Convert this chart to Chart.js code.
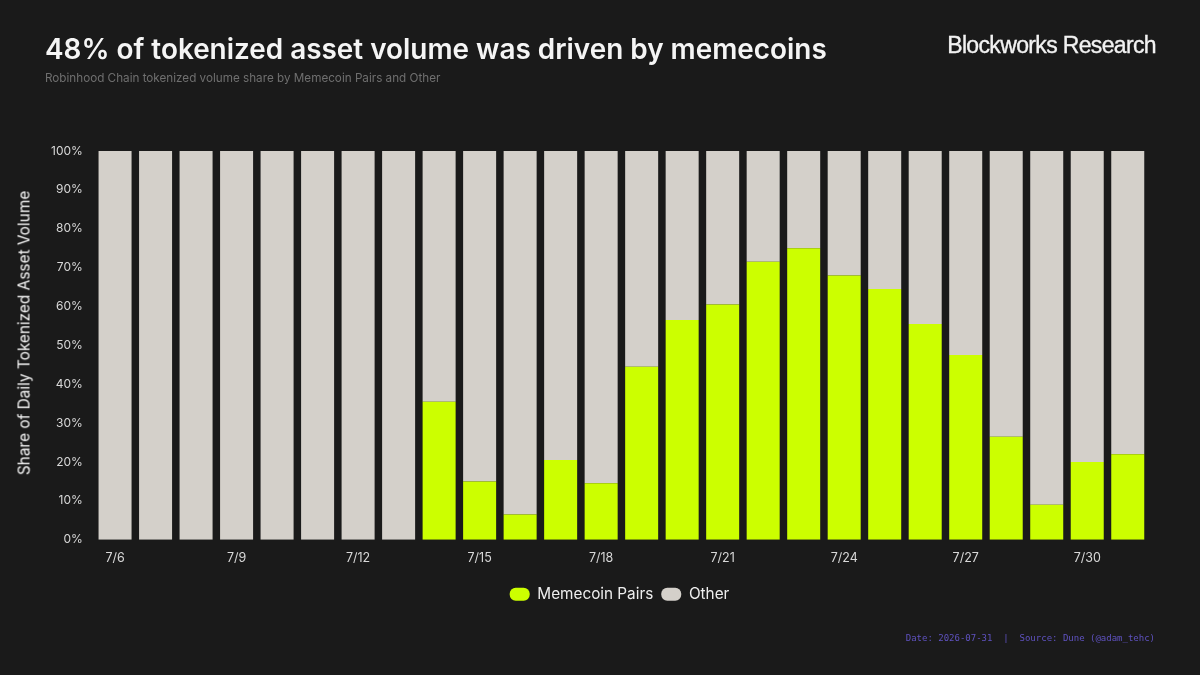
<!DOCTYPE html>
<html>
<head>
<meta charset="utf-8">
<script src="https://cdn.jsdelivr.net/npm/chart.js@4"></script>
<style>
  html, body { margin: 0; padding: 0; background: #1a1a1a; }
  #wrap { position: relative; width: 1200px; height: 675px; overflow: hidden; font-family: Inter, sans-serif; }
  #grafik { position: absolute; left: 0; top: 0; }
  .txt { position: absolute; white-space: nowrap; }
  #baslik { left: 45px; top: 32px; font-size: 27.9px; font-weight: 600; color: #f5f5f5; }
  #altbaslik { left: 45px; top: 71px; font-size: 11.7px; color: #6f6f6f; }
  #marka { right: 44px; top: 32px; font-size: 23px; font-weight: 400; color: #f2f2f2; letter-spacing: -0.65px; font-family: "Liberation Sans", sans-serif; -webkit-text-stroke: 0.35px #f2f2f2; }
  #kaynak { right: 45px; top: 633px; font-size: 9px; color: #5f52c0; font-family: "DejaVu Sans Mono", monospace; white-space: pre; }
  #yeksen { left: 24px; top: 332.5px; font-size: 15.4px; color: #f2f2f2; transform: translate(-50%, -50%) rotate(-90deg); }
</style>
</head>
<body>
<div id="wrap">
  <canvas id="grafik" width="1200" height="675"></canvas>
  <div class="txt" id="baslik">48% of tokenized asset volume was driven by memecoins</div>
  <div class="txt" id="altbaslik">Robinhood Chain tokenized volume share by Memecoin Pairs and Other</div>
  <div class="txt" id="marka">Blockworks Research</div>
  <div class="txt" id="yeksen">Share of Daily Tokenized Asset Volume</div>
  <div class="txt" id="kaynak">Date: 2026-07-31  |  Source: Dune (@adam_tehc)</div>
</div>
<script>
const tarihler = ["7/6","7/7","7/8","7/9","7/10","7/11","7/12","7/13","7/14","7/15","7/16","7/17","7/18","7/19","7/20","7/21","7/22","7/23","7/24","7/25","7/26","7/27","7/28","7/29","7/30","7/31"];
const memecoin = [0,0,0,0,0,0,0,0,35.5,15,6.5,20.5,14.5,44.5,56.5,60.5,71.5,75,68,64.5,55.5,47.5,26.5,9,20,22];
const diger = [100,100,100,100,100,100,100,100,64.5,85,93.5,79.5,85.5,55.5,43.5,39.5,28.5,25,32,35.5,44.5,52.5,73.5,91,80,78];

// Legend sits right of the plot centre in the original
const legendKaydir = {
  id: "legendKaydir",
  afterLayout(chart) {
    chart.legend.left += 22;
    chart.legend.right += 22;
  }
};

new Chart(document.getElementById("grafik"), {
  type: "bar",
  data: {
    labels: tarihler,
    datasets: [
      { label: "Memecoin Pairs", data: memecoin, backgroundColor: "#ccff00" },
      { label: "Other", data: diger, backgroundColor: "#d4d0ca" }
    ]
  },
  plugins: [legendKaydir],
  options: {
    responsive: false,
    animation: false,
    datasets: { bar: { categoryPercentage: 1, barPercentage: 0.815 } },
    layout: { padding: { left: 47, right: 52, top: 151, bottom: 63 } },
    plugins: {
      tooltip: { enabled: false },
      legend: {
        position: "bottom",
        labels: {
          color: "#eeeeee",
          font: { family: "Inter", size: 15.3 },
          boxWidth: 20,
          boxHeight: 13,
          useBorderRadius: true,
          borderRadius: 6,
          padding: 8
        }
      }
    },
    scales: {
      x: {
        stacked: true,
        grid: { display: false },
        border: { display: false },
        afterFit: s => { s.height += 10; },
        ticks: {
          color: "#d8d8d8",
          font: { family: "Inter", size: 12.5 },
          maxRotation: 0,
          autoSkip: false,
          padding: 3,
          callback: (v, i) => i % 3 === 0 ? tarihler[i] : ""
        }
      },
      y: {
        stacked: true,
        min: 0,
        max: 100,
        grid: { display: false },
        border: { display: false },
        ticks: {
          color: "#d8d8d8",
          font: { family: "Inter", size: 12 },
          stepSize: 10,
          padding: 4,
          callback: v => v + "%"
        }
      }
    }
  }
});
</script>
</body>
</html>
